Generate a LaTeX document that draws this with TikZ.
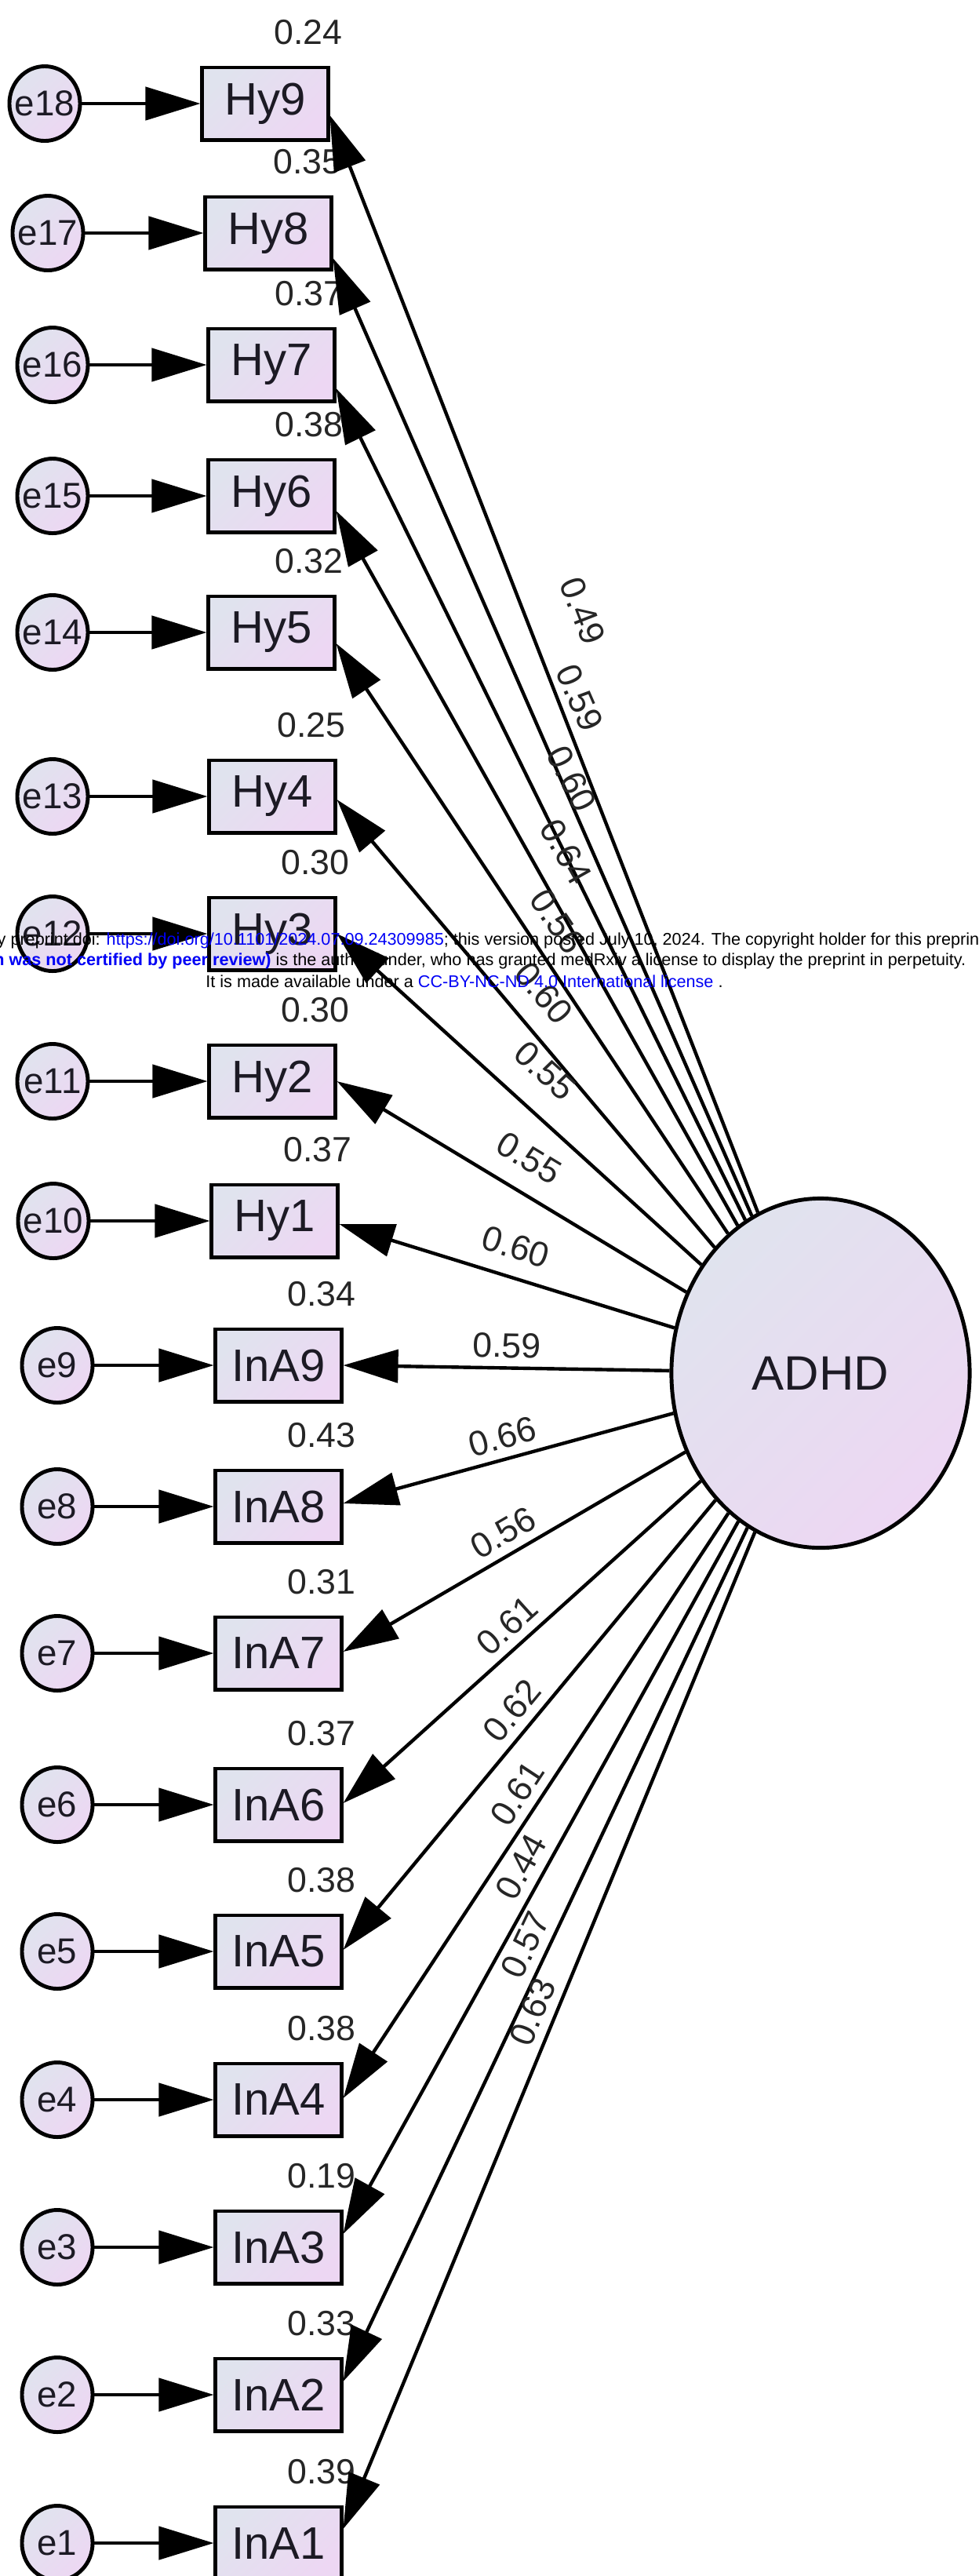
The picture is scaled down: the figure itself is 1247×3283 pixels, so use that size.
\documentclass[tikz,border=0pt]{standalone}
\usepackage{fontspec}
\setmainfont{Liberation Sans}
\usetikzlibrary{shapes.geometric,arrows.meta,calc}

\definecolor{amosgrey}{RGB}{224,227,238}
\definecolor{amospink}{RGB}{237,215,243}
\definecolor{amosink}{RGB}{28,26,36}
\definecolor{wmblue}{RGB}{0,0,245}
\newcommand{\etxt}[1]{\makebox[0pt]{#1}}

\begin{document}
\begin{tikzpicture}[x=0.01cm, y=-0.01cm,
        item/.style = {draw, line width=1.4pt, top color=amosgrey, bottom color=amospink, shading angle=45,
                       minimum width=1.6cm, minimum height=0.92cm, inner sep=0pt, text=amosink,
                       font=\fontsize{16.5}{18}\selectfont},
        err/.style = {ellipse, draw, line width=1.4pt, top color=amosgrey, bottom color=amospink, shading angle=45,
                      minimum width=0.9cm, minimum height=0.95cm, inner sep=0pt, text=amosink,
                      font=\fontsize{13}{15}\selectfont},
        factor/.style = {ellipse, draw, line width=1.4pt, top color=amosgrey, bottom color=amospink, shading angle=45,
                         minimum width=3.8cm, minimum height=4.45cm, inner sep=0pt, text=amosink,
                         font=\fontsize{17.5}{20}\selectfont},
        var/.style = {inner sep=1pt, text=black!85, font=\fontsize{12.7}{14}\selectfont},
        lw/.style = {sloped, above=2pt, pos=.5, inner sep=1pt, text=black!85, font=\fontsize{12.7}{14}\selectfont},
        regr/.style = {line width=1.25pt, -{Triangle[length=7mm,width=4.2mm]}},
        wm/.style = {inner sep=0pt, font=\fontsize{6.15}{7}\selectfont}]
        \useasboundingbox (0,0) rectangle (1247,3283);

        % latent factor
        \node[factor] (ADHD) at (1046,1750) {ADHD};

        % observed items
        \node[item] (Hy9) at (338,132) {Hy9};
        \node[item] (Hy8) at (342,297) {Hy8};
        \node[item] (Hy7) at (346,465) {Hy7};
        \node[item] (Hy6) at (346,632) {Hy6};
        \node[item] (Hy5) at (346,806) {Hy5};
        \node[item] (Hy4) at (347,1015) {Hy4};
        \node[item] (Hy3) at (347,1190) {Hy3};
        \node[item] (Hy2) at (347,1378) {Hy2};
        \node[item] (Hy1) at (350,1556) {Hy1};
        \node[item] (InA9) at (355,1740) {InA9};
        \node[item] (InA8) at (355,1920) {InA8};
        \node[item] (InA7) at (355,2107) {InA7};
        \node[item] (InA6) at (355,2300) {InA6};
        \node[item] (InA5) at (355,2487) {InA5};
        \node[item] (InA4) at (355,2676) {InA4};
        \node[item] (InA3) at (355,2864) {InA3};
        \node[item] (InA2) at (355,3052) {InA2};
        \node[item] (InA1) at (355,3241) {InA1};

        % error terms
        \node[err] (e18) at (57,132) {\etxt{e18}};
        \node[err] (e17) at (61,297) {\etxt{e17}};
        \node[err] (e16) at (67,465) {\etxt{e16}};
        \node[err] (e15) at (67,632) {\etxt{e15}};
        \node[err] (e14) at (67,806) {\etxt{e14}};
        \node[err] (e13) at (67,1015) {\etxt{e13}};
        \node[err] (e12) at (67,1190) {\etxt{e12}};
        \node[err] (e11) at (67,1378) {\etxt{e11}};
        \node[err] (e10) at (68,1556) {\etxt{e10}};
        \node[err] (e9) at (73,1740) {\etxt{e9}};
        \node[err] (e8) at (73,1920) {\etxt{e8}};
        \node[err] (e7) at (73,2107) {\etxt{e7}};
        \node[err] (e6) at (73,2300) {\etxt{e6}};
        \node[err] (e5) at (73,2487) {\etxt{e5}};
        \node[err] (e4) at (73,2676) {\etxt{e4}};
        \node[err] (e3) at (73,2864) {\etxt{e3}};
        \node[err] (e2) at (73,3052) {\etxt{e2}};
        \node[err] (e1) at (73,3241) {\etxt{e1}};

        % squared multiple correlations
        \node[var] (sHy9) at ($(Hy9)+(55,-91)$) {0.24};
        \node[var] (sHy8) at ($(Hy8)+(50,-91)$) {0.35};
        \node[var] (sHy7) at ($(Hy7)+(48,-91)$) {0.37};
        \node[var] (sHy6) at ($(Hy6)+(48,-91)$) {0.38};
        \node[var] (sHy5) at ($(Hy5)+(48,-91)$) {0.32};
        \node[var] (sHy4) at ($(Hy4)+(50,-91)$) {0.25};
        \node[var] (sHy3) at ($(Hy3)+(55,-91)$) {0.30};
        \node[var] (sHy2) at ($(Hy2)+(55,-91)$) {0.30};
        \node[var] (sHy1) at ($(Hy1)+(55,-91)$) {0.37};
        \node[var] (sInA9) at ($(InA9)+(55,-91)$) {0.34};
        \node[var] (sInA8) at ($(InA8)+(55,-91)$) {0.43};
        \node[var] (sInA7) at ($(InA7)+(55,-91)$) {0.31};
        \node[var] (sInA6) at ($(InA6)+(55,-91)$) {0.37};
        \node[var] (sInA5) at ($(InA5)+(55,-91)$) {0.38};
        \node[var] (sInA4) at ($(InA4)+(55,-91)$) {0.38};
        \node[var] (sInA3) at ($(InA3)+(55,-91)$) {0.19};
        \node[var] (sInA2) at ($(InA2)+(55,-91)$) {0.33};
        \node[var] (sInA1) at ($(InA1)+(55,-91)$) {0.39};

        % errors into items
        \draw[regr] (e18) -- (Hy9);
        \draw[regr] (e17) -- (Hy8);
        \draw[regr] (e16) -- (Hy7);
        \draw[regr] (e15) -- (Hy6);
        \draw[regr] (e14) -- (Hy5);
        \draw[regr] (e13) -- (Hy4);
        \draw[regr] (e12) -- (Hy3);
        \draw[regr] (e11) -- (Hy2);
        \draw[regr] (e10) -- (Hy1);
        \draw[regr] (e9) -- (InA9);
        \draw[regr] (e8) -- (InA8);
        \draw[regr] (e7) -- (InA7);
        \draw[regr] (e6) -- (InA6);
        \draw[regr] (e5) -- (InA5);
        \draw[regr] (e4) -- (InA4);
        \draw[regr] (e3) -- (InA3);
        \draw[regr] (e2) -- (InA2);
        \draw[regr] (e1) -- (InA1);

        % factor loadings
        \draw[regr] (ADHD) -- ($(Hy9.east)+(0,15)$) node[lw, pos=.53, above=12pt] {0.49};
        \draw[regr] (ADHD) -- ($(Hy8.east)+(0,32)$) node[lw, pos=.52, above=10pt] {0.59};
        \draw[regr] (ADHD) -- ($(Hy7.east)+(0,30)$) node[lw, pos=.51, above=6pt] {0.60};
        \draw[regr] (ADHD) -- ($(Hy6.east)+(0,19)$) node[lw, above=4pt] {0.64};
        \draw[regr] (ADHD) -- ($(Hy5.east)+(0,14)$) node[lw, above=3pt] {0.56};
        \draw[regr] (ADHD) -- ($(Hy4.east)+(0,4)$) node[lw, pos=.52, above=4pt] {0.60};
        \draw[regr] (ADHD) -- (Hy3.east) node[lw, above=6pt] {0.55};
        \draw[regr] (ADHD) -- (Hy2.east) node[lw, above=4pt] {0.55};
        \draw[regr] (ADHD) -- ($(Hy1.east)+(0,4)$) node[lw, above=3pt] {0.60};
        \draw[regr] (ADHD) -- (InA9.east) node[lw] {0.59};
        \draw[regr] (ADHD) -- ($(InA8.east)+(0,-4)$) node[lw] {0.66};
        \draw[regr] (ADHD) -- ($(InA7.east)+(0,-2)$) node[lw] {0.56};
        \draw[regr] (ADHD) -- ($(InA6.east)+(0,-2)$) node[lw] {0.61};
        \draw[regr] (ADHD) -- ($(InA5.east)+(0,-2)$) node[lw] {0.62};
        \draw[regr] (ADHD) -- ($(InA4.east)+(0,-2)$) node[lw] {0.61};
        \draw[regr] (ADHD) -- ($(InA3.east)+(0,-17)$) node[lw] {0.44};
        \draw[regr] (ADHD) -- ($(InA2.east)+(0,-17)$) node[lw] {0.57};
        \draw[regr] (ADHD) -- ($(InA1.east)+(0,-18)$) node[lw, pos=.49] {0.63};

        % preprint stamp
        \node[wm, anchor=west] (wm1) at (-4,1199) {y preprint doi: \textcolor{wmblue}{https://doi.org/10.1101/2024.07.09.24309985}; this version posted July 10, 2024. The copyright holder for this preprint};
        \node[wm, anchor=east] (wm2) at (1232,1225) {\textcolor{wmblue}{\bfseries n was not certified by peer review)} is the author/funder, who has granted medRxiv a license to display the preprint in perpetuity.};
        \node[wm] (wm3) at (592,1251) {It is made available under a \textcolor{wmblue}{CC-BY-NC-ND 4.0 International license} .};
\end{tikzpicture}
\end{document}
